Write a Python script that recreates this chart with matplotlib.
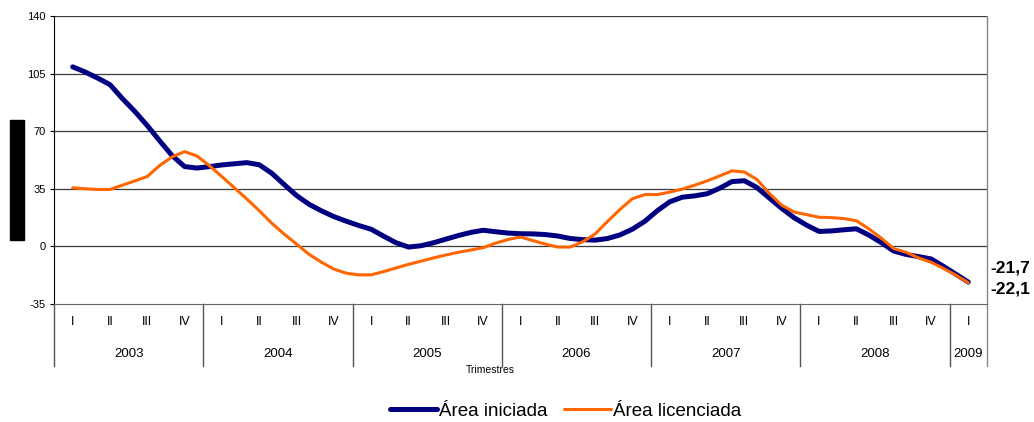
import matplotlib.pyplot as plt
import matplotlib.transforms as mtransforms
from matplotlib.patches import Rectangle
import numpy as np

plt.rcParams['font.family'] = ['Liberation Sans', 'DejaVu Sans']

# Datos: 3 lecturas por trimestre (2003 I ... 2009 I)
area_iniciada = [
    109.1, 106.0, 102.3, 98.3, 89.8, 82.0, 73.4, 64.1, 55.1, 48.5, 47.6, 48.5,
    49.5, 50.2, 50.9, 49.6, 44.5, 37.6, 30.9, 25.6, 21.6, 18.1, 15.3, 12.7,
    10.4, 6.2, 2.2, -0.4, 0.4, 2.2, 4.4, 6.6, 8.5, 9.8, 8.9, 8.1,
    7.7, 7.6, 7.2, 6.3, 4.8, 4.1, 3.8, 4.8, 7.0, 10.5, 15.3, 21.7,
    27.1, 29.9, 30.7, 32.0, 35.3, 39.4, 39.9, 35.8, 29.4, 23.1, 17.4, 12.9,
    9.1, 9.4, 10.1, 10.7, 6.9, 2.3, -2.8, -4.9, -6.2, -7.6, -12.1, -16.9,
    -21.7,
]
area_licenciada = [
    35.6, 35.0, 34.6, 34.6, 37.2, 39.8, 42.5, 49.2, 54.4, 57.6, 54.9, 49.0,
    42.4, 35.6, 28.8, 21.7, 14.1, 7.5, 1.4, -4.8, -9.6, -13.8, -16.3, -17.3,
    -17.3, -15.3, -13.1, -10.9, -9.0, -7.0, -5.2, -3.6, -2.2, -0.8, 2.0, 4.2,
    5.7, 3.5, 1.4, -0.4, -0.4, 2.8, 7.6, 15.2, 22.5, 29.0, 31.5, 31.5,
    33.0, 34.8, 37.2, 39.8, 42.8, 45.9, 45.2, 40.7, 32.2, 25.0, 20.9, 19.3,
    17.7, 17.5, 16.9, 15.6, 10.7, 5.0, -1.3, -3.6, -7.0, -9.6, -13.4, -17.5,
    -22.1,
]
trimestres = ['I', 'II', 'III', 'IV'] * 6 + ['I']
anios = ['2003', '2004', '2005', '2006', '2007', '2008', '2009']
n_trim_anio = [4, 4, 4, 4, 4, 4, 1]
yticks = [-35, 0, 35, 70, 105, 140]

x = np.arange(len(area_iniciada)) / 3.0

fig = plt.figure(figsize=(10.34, 4.22), dpi=100)
ax = fig.add_axes([54 / 1034, 1 - 304 / 422, 933 / 1034, 288 / 422])

ax.plot(x, area_iniciada, color='#000080', lw=3.6, solid_capstyle='round',
        solid_joinstyle='round', label='Área iniciada', zorder=3)
ax.plot(x, area_licenciada, color='#FF6600', lw=2.2, solid_capstyle='round',
        solid_joinstyle='round', label='Área licenciada', zorder=4)

ax.set_xlim(-0.5, len(trimestres) - 0.5)
ax.set_ylim(-35, 140)
ax.set_yticks(yticks)
ax.set_yticklabels([str(v) for v in yticks], fontsize=8)
ax.tick_params(axis='y', length=3, width=0.8, pad=3, colors='black')
ax.set_xticks([])
for v in yticks[1:]:
    ax.axhline(v, color='#3a3a3a', lw=0.9, zorder=1)

for s in ['top', 'right']:
    ax.spines[s].set_visible(False)
ax.spines['left'].set_color('black')
ax.spines['bottom'].set_color('#666666')

trans = mtransforms.blended_transform_factory(ax.transData, ax.transAxes)
for i, t in enumerate(trimestres):
    ax.text(i, -0.062, t, transform=trans, ha='center', va='center', fontsize=9)

start = 0
for anio, n in zip(anios, n_trim_anio):
    ax.text(start + (n - 1) / 2, -0.173, anio, transform=trans, ha='center',
            va='center', fontsize=9.5)
    ax.plot([start - 0.5, start - 0.5], [0, -0.215], transform=trans,
            color='#555555', lw=1, clip_on=False)
    start += n
ax.plot([start - 0.5, start - 0.5], [1, -0.215], transform=trans,
        color='#888888', lw=1, clip_on=False)

ax.text(0.468, -0.228, 'Trimestres', transform=ax.transAxes, ha='center',
        va='center', fontsize=7.5)

# etiquetas de valor final
fig.text(990 / 1034, 1 - 268 / 422, '-21,7', fontsize=12.5, fontweight='bold',
         ha='left', va='center')
fig.text(990 / 1034, 1 - 289 / 422, '-22,1', fontsize=12.5, fontweight='bold',
         ha='left', va='center')

# bloque negro a la izquierda
fig.patches.append(Rectangle((10 / 1034, 1 - 240 / 422), 14 / 1034, 120 / 422,
                             transform=fig.transFigure, color='black'))

fig.legend(loc='center', bbox_to_anchor=(0.547, 0.026), ncol=2, frameon=False,
           fontsize=13.5, handlelength=2.5, handletextpad=0.1, columnspacing=0.9)

fig.savefig('out.png', dpi=100)
